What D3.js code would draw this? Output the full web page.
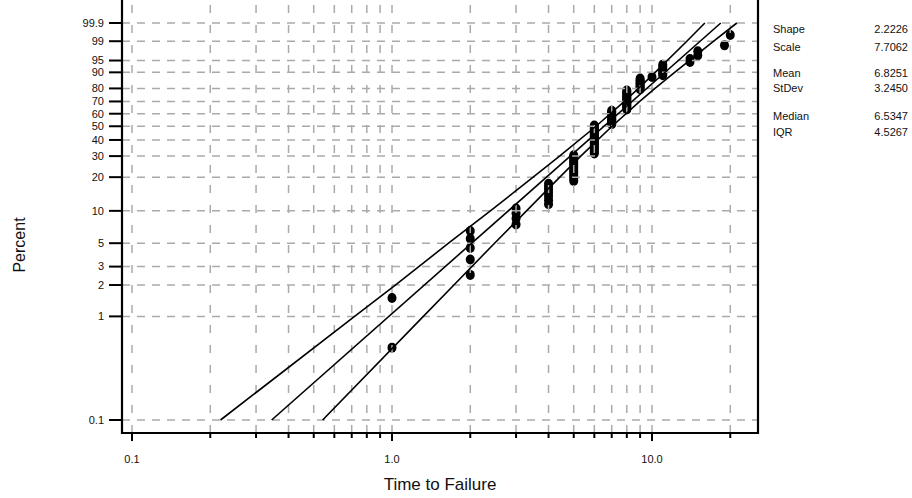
<!DOCTYPE html>
<html><head><meta charset="utf-8">
<script src="https://cdn.jsdelivr.net/npm/d3@7"></script>
<style>body{margin:0;background:#fff;} text{font-family:"Liberation Sans",Arial,sans-serif;fill:#111;}</style>
</head><body><svg id="c" width="912" height="498"></svg>
<script>
// ---- data ----
const xTickValues = [0.1,0.2,0.3,0.4,0.5,0.6,0.7,0.8,0.9,1,2,3,4,5,6,7,8,9,10,20];
const xMajorTicks = [0.1,1,10];
const xTickLabels = ["0.1","1.0","10.0"];
const yTickValues = [0.1,1,2,3,5,10,20,30,40,50,60,70,80,90,95,99,99.9];
const yTickLabels = ["0.1","1","2","3","5","10","20","30","40","50","60","70","80","90","95","99","99.9"];

const failTimes = [1,2,3,4,5,6,7,8,9,10,11,14,15,19,20];
const failPercents = [
  [0.5,1.5],
  [2.5,3.5,4.5,5.5,6.5],
  [7.5,8.5,9.5,10.5],
  [11.5,12.5,13.5,14.5,15.5,16.5,17.5],
  [18.5,19.5,20.5,21.5,22.5,23.5,24.5,25.5,26.5,27.5,28.5,29.5,30.5],
  [31.5,32.5,33.5,34.5,35.5,36.5,37.5,38.5,39.5,40.5,41.5,42.5,43.5,44.5,45.5,46.5,47.5,48.5,49.5,50.5],
  [51.5,52.5,53.5,54.5,55.5,56.5,57.5,58.5,59.5,60.5,61.5,62.5],
  [63.5,64.5,65.5,66.5,67.5,68.5,69.5,70.5,71.5,72.5,73.5,74.5,75.5,76.5,77.5,78.5],
  [79.5,80.5,81.5,82.5,83.5,84.5,85.5,86.5],
  [87.5],
  [88.5,89.5,90.5,91.5,92.5,93.5],
  [94.5,95.5],
  [96.5,97.5],
  [98.5],
  [99.5]
];

const boundPercents   = [0.1, 1, 2, 5, 10, 20, 30, 50, 70, 80, 90, 99, 99.9];
const upperBoundTimes = [0.219,0.718,1.03,1.65,2.39,3.49,4.41,6.09,7.83,8.87,10.29,13.61,15.97];
const lowerBoundTimes = [0.541,1.32,1.73,2.48,3.29,4.42,5.32,7.02,8.97,10.27,12.22,17.27,21.20];

const shape = 2.2226, scaleParam = 7.7062;
const fitPercents = [0.1, 99.9];

const statGroups = [
  [["Shape","2.2226"],["Scale","7.7062"]],
  [["Mean","6.8251"],["StDev","3.2450"]],
  [["Median","6.5347"],["IQR","4.5267"]]
];

// ---- layout ----
const L = 122, R = 758, T = 0, B = 433;
const W = p => Math.log(-Math.log(1 - p/100));

const svg = d3.select("#c");
const x = d3.scaleLog().domain([0.1,10]).range([132,652]);
const y = d3.scaleLinear().domain([W(0.1), W(99.9)]).range([420, 23]);

// points (drawn under grid)
const pts = [];
failTimes.forEach((t,i)=>failPercents[i].forEach(p=>pts.push({t,p})));
svg.append("g").selectAll("ellipse").data(pts).join("ellipse")
  .attr("cx", d=>x(d.t)).attr("cy", d=>y(W(d.p)))
  .attr("rx",4.5).attr("ry",5).attr("fill","#000");

// grid
const grid = svg.append("g").attr("stroke","#aaa").attr("stroke-width",1.5);
grid.selectAll(".h").data(yTickValues).join("line")
  .attr("x1",L).attr("x2",R).attr("y1",d=>y(W(d))).attr("y2",d=>y(W(d)))
  .attr("stroke-dasharray","8,7");
grid.selectAll(".v").data(xTickValues).join("line")
  .attr("y1",B).attr("y2",T).attr("x1",d=>x(d)).attr("x2",d=>x(d))
  .attr("stroke-dasharray","8,12");

// lines
const line = d3.line().x(d=>x(d[1])).y(d=>y(W(d[0])));
const fitLine = fitPercents.map(p=>[p, scaleParam*Math.exp(W(p)/shape)]);
const lg = svg.append("g").attr("fill","none").attr("stroke","#000").attr("stroke-width",1.6);
lg.append("path").attr("d", line(boundPercents.map((p,i)=>[p,upperBoundTimes[i]])));
lg.append("path").attr("d", line(fitLine));
lg.append("path").attr("d", line(boundPercents.map((p,i)=>[p,lowerBoundTimes[i]])));

// frame
const fr = svg.append("g").attr("stroke","#000").attr("stroke-width",2.2).attr("fill","none");
fr.append("path").attr("d",`M${L},${T}V${B}H${R}V${T}`);

// y ticks
svg.append("g").selectAll("line").data(yTickValues).join("line")
  .attr("x1",109).attr("x2",L).attr("y1",d=>y(W(d))).attr("y2",d=>y(W(d)))
  .attr("stroke","#000").attr("stroke-width",2);
svg.append("g").selectAll("text").data(yTickValues).join("text")
  .attr("x",104).attr("y",d=>y(W(d))).attr("dy","0.35em")
  .attr("text-anchor","end").attr("font-size",11).text((d,i)=>yTickLabels[i]);

// x ticks
svg.append("g").selectAll("line").data(xTickValues).join("line")
  .attr("x1",d=>x(d)).attr("x2",d=>x(d)).attr("y1",B)
  .attr("y2",d=>xMajorTicks.includes(d)?441:438)
  .attr("stroke","#000").attr("stroke-width",2);
svg.append("g").selectAll("text").data(xMajorTicks).join("text")
  .attr("x",d=>x(d)).attr("y",463).attr("text-anchor","middle")
  .attr("font-size",11).text((d,i)=>xTickLabels[i]);

// axis titles
svg.append("text").attr("x",440).attr("y",490).attr("text-anchor","middle")
  .attr("font-size",17).text("Time to Failure");
svg.append("text").attr("transform","translate(25,245) rotate(-90)")
  .attr("text-anchor","middle").attr("font-size",16).text("Percent");

// stats
const rowY = [[29,47],[73,88],[116,132]];
statGroups.forEach((g,gi)=>g.forEach((r,ri)=>{
  svg.append("text").attr("x",773).attr("y",rowY[gi][ri]).attr("dy","0.35em")
    .attr("font-size",11).text(r[0]);
  svg.append("text").attr("x",908).attr("y",rowY[gi][ri]).attr("dy","0.35em")
    .attr("text-anchor","end").attr("font-size",11).text(r[1]);
}));
</script></body></html>
